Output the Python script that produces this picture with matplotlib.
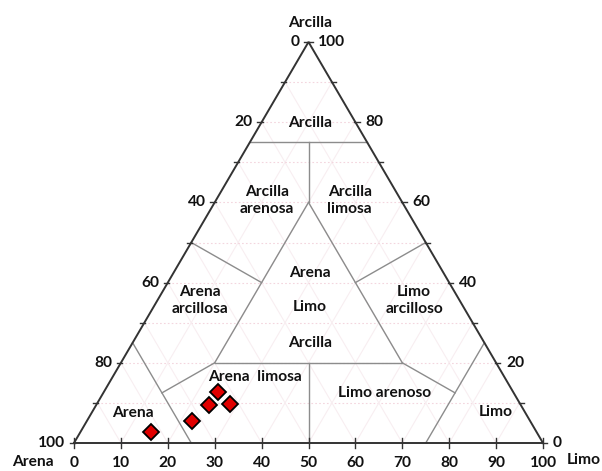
import numpy as np
import matplotlib.pyplot as plt

# sample compositions (%)
sand = [82.3, 72.0, 66.5, 61.8, 63.0]
silt = [15.0, 22.5, 24.0, 28.5, 24.3]
clay = [2.7, 5.5, 9.5, 9.7, 12.7]

# Shepard classification boundaries, endpoints as (sand, silt, clay)
boundaries = [
    [(25, 0, 75), (0, 25, 75)],
    [(20, 20, 60), (12.5, 12.5, 75)],
    [(20, 20, 60), (60, 20, 20)],
    [(20, 20, 60), (20, 60, 20)],
    [(60, 20, 20), (20, 60, 20)],
    [(50, 0, 50), (40, 20, 40)],
    [(0, 50, 50), (20, 40, 40)],
    [(75, 0, 25), (75, 25, 0)],
    [(0, 75, 25), (25, 75, 0)],
    [(75, 12.5, 12.5), (60, 20, 20)],
    [(12.5, 75, 12.5), (20, 60, 20)],
    [(40, 40, 20), (50, 50, 0)],
]

zones = [
    ("Arcilla", 50.3, 79.8),
    ("Arcilla\narenosa", 41.2, 60.5),
    ("Arcilla\nlimosa", 58.8, 60.5),
    ("Arena", 50.3, 42.5),
    ("Limo", 50.3, 34.0),
    ("Arcilla", 50.3, 25.0),
    ("Arena\narcillosa", 26.8, 35.6),
    ("Limo\narcilloso", 72.5, 35.6),
    ("Arena  limosa", 38.6, 16.5),
    ("Limo arenoso", 66.3, 12.5),
    ("Arena", 12.6, 7.5),
    ("Limo", 90.0, 7.7),
]


def to_xy(s, l, c):
    return l + c / 2.0, c


fig = plt.figure(figsize=(6.02, 4.71), dpi=100)
ax = fig.add_axes([0, 0, 1, 1])
ax.set_xlim(-74 / 4.69, (602 - 74) / 4.69)
ax.set_ylim(-28 / 4.01, (471 - 28) / 4.01)
ax.axis("off")

font = dict(family="Lato", fontweight="bold", fontsize=11.2, color="#111111")

# faint triangular grid
for v in range(10, 100, 10):
    ax.plot([v / 2.0, 100 - v / 2.0], [v, v], color="#f3d6de", lw=0.8,
            ls=(0, (1.5, 2)), zorder=1)
    ax.plot([100 - v, (100 - v) / 2.0], [0, 100 - v], color="#f8eef1",
            lw=0.8, zorder=1)
    ax.plot([v, v + (100 - v) / 2.0], [0, 100 - v], color="#f8eef1",
            lw=0.8, zorder=1)

# class boundaries
for a, b in boundaries:
    xa, ya = to_xy(*a)
    xb, yb = to_xy(*b)
    ax.plot([xa, xb], [ya, yb], color="#8c8c8c", lw=1.0, zorder=2)

# outer triangle
ax.plot([0, 100, 50, 0], [0, 0, 100, 0], color="#333333", lw=1.4, zorder=3,
        solid_joinstyle="miter")

# ticks
for v in range(0, 101, 10):
    ax.plot([v, v], [-1.2, 1.2], color="#333333", lw=1.0, zorder=3)
    ax.plot([v / 2.0 - 0.9, v / 2.0 + 0.2], [v, v], color="#333333", lw=1.0,
            zorder=3)
    ax.plot([100 - v / 2.0 - 0.2, 100 - v / 2.0 + 0.9], [v, v],
            color="#333333", lw=1.0, zorder=3)
    ax.text(v, -5.0, str(v), ha="center", va="center", **font)

for v in range(0, 101, 20):
    ax.text(v / 2.0 - 1.9, v, str(100 - v), ha="right", va="center", **font)
    ax.text(100 - v / 2.0 + 2.1, v, str(v), ha="left", va="center", **font)

ax.text(50.3, 104.7, "Arcilla", ha="center", va="center", **font)
ax.text(-8.7, -4.7, "Arena", ha="center", va="center", **font)
ax.text(108.6, -4.3, "Limo", ha="center", va="center", **font)

for label, x, y in zones:
    ax.text(x, y, label, ha="center", va="center", linespacing=1.25, **font)

# samples
px, py = zip(*[to_xy(s, l, c) for s, l, c in zip(sand, silt, clay)])
ax.plot(px, py, ls="none", marker="D", ms=8, mfc="#e00000", mec="black",
        mew=1.3, zorder=5)

fig.savefig("out.png", dpi=100)
